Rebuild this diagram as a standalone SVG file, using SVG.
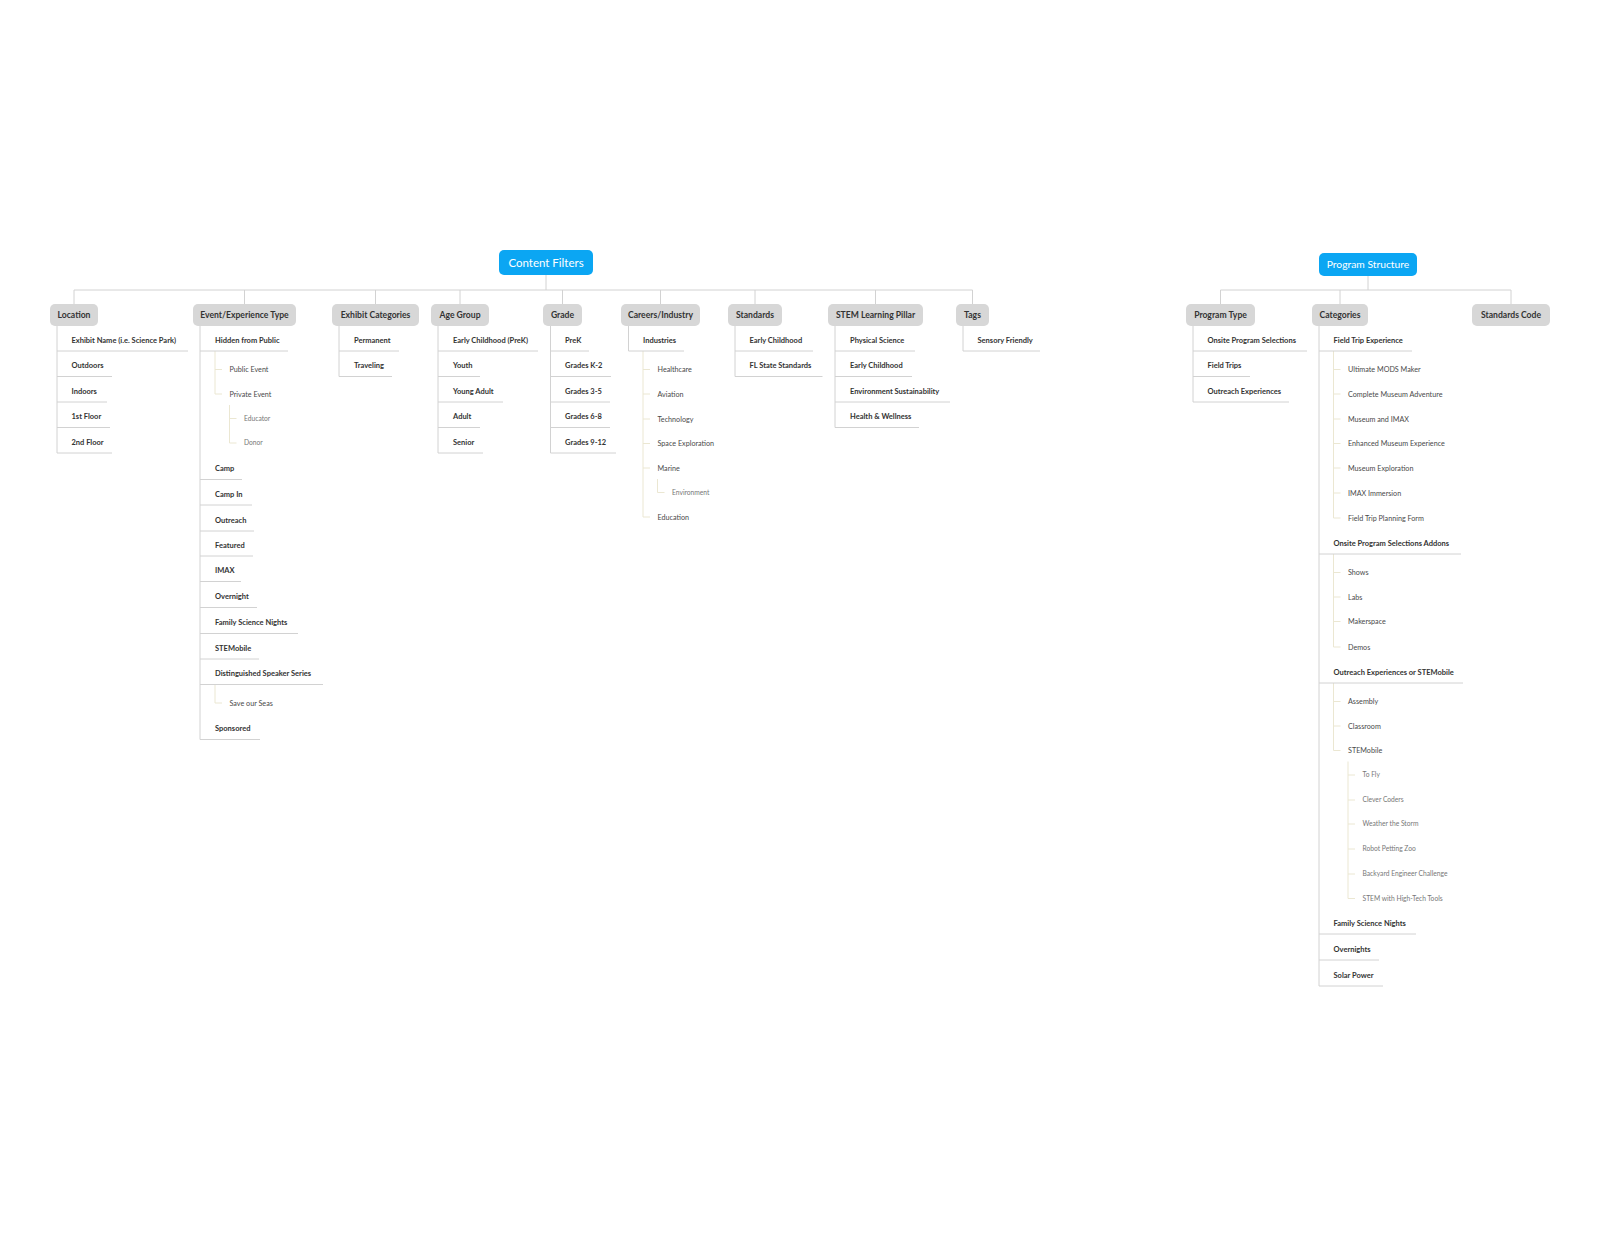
<svg xmlns="http://www.w3.org/2000/svg" width="1600" height="1236" viewBox="0 0 1600 1236">
<style>
text{font-family:"Lato","Liberation Sans",sans-serif}
.bg{fill:#ffffff}
.root rect{fill:#0ba6f3}
.root text{fill:#ffffff;font-size:11.5px;text-anchor:middle}
.hdr rect{fill:#d7d7d7}
.hdr text{fill:#333333;font-size:8.6px;font-weight:700;text-anchor:middle}
.l2 text{fill:#333333;font-size:7.5px;font-weight:700}
.l2 line{stroke:#d2d2d2;stroke-width:1}
.l3 text{fill:#4a4a4a;font-size:7.2px}
.l4 text{fill:#777777;font-size:6.7px}
.cg{fill:none;stroke:#d2d2d2;stroke-width:1}
.cb{fill:none;stroke:#ebe7d2;stroke-width:1}
</style>
<rect class="bg" x="0" y="0" width="1600" height="1236"/>

<g id="connectors">
  <path class="cg" d="M546 275V290M74 290H972.5M74 290V304M244.5 290V304M375.5 290V304M460 290V304M562.5 290V304M660.5 290V304M755 290V304M875.5 290V304M972.5 290V304"/>
  <path class="cg" d="M1368 276V290M1220.5 290H1511M1220.5 290V304M1340 290V304M1511 290V304"/>
  <path class="cg" d="M57 326V453M200 326V739.5M339 326V376.5M438 326V453M550.5 326V453M628.5 326V351M735 326V376.5M835 326V427.5M963 326V351M1193 326V402M1319 326V986"/>
  <path class="cb" d="M215 351V394M215 369.5H222M215 394H222M229.5 405V443M229.5 418.5H236.5M229.5 443H236.5M215 684.5V703M215 703H222"/>
  <path class="cb" d="M643 351V517M643 369.5H650M643 394H650M643 419H650M643 443.5H650M643 468H650M643 517H650M657.5 479V492.5M657.5 492.5H664.5"/>
  <path class="cb" d="M1333.5 351V518M1333.5 369.5H1340.5M1333.5 394H1340.5M1333.5 419H1340.5M1333.5 443.5H1340.5M1333.5 468H1340.5M1333.5 493H1340.5M1333.5 518H1340.5"/>
  <path class="cb" d="M1333.5 554V647M1333.5 572.5H1340.5M1333.5 597H1340.5M1333.5 621.5H1340.5M1333.5 647H1340.5"/>
  <path class="cb" d="M1333.5 683V750.5M1333.5 701.5H1340.5M1333.5 726H1340.5M1333.5 750.5H1340.5M1348 761.5V898.5M1348 775H1355M1348 800H1355M1348 824H1355M1348 849H1355M1348 874H1355M1348 898.5H1355"/>
</g>

<g id="content-filters" class="root"><rect x="499" y="250" width="94" height="25" rx="5"/><text x="546" y="266.5">Content Filters</text></g>
<g id="program-structure" class="root"><rect x="1319" y="253" width="98" height="23" rx="5"/><text x="1368" y="268.3" style="font-size:10.3px">Program Structure</text></g>

<g id="h-location" class="hdr"><rect x="50" y="304" width="48" height="22" rx="5"/><text x="74" y="318">Location</text></g>
<g id="h-event" class="hdr"><rect x="193" y="304" width="103" height="22" rx="5"/><text x="244.5" y="318">Event/Experience Type</text></g>
<g id="h-exhibit" class="hdr"><rect x="332" y="304" width="87" height="22" rx="5"/><text x="375.5" y="318">Exhibit Categories</text></g>
<g id="h-age" class="hdr"><rect x="431" y="304" width="58" height="22" rx="5"/><text x="460" y="318">Age Group</text></g>
<g id="h-grade" class="hdr"><rect x="543" y="304" width="39" height="22" rx="5"/><text x="562.5" y="318">Grade</text></g>
<g id="h-careers" class="hdr"><rect x="621" y="304" width="79" height="22" rx="5"/><text x="660.5" y="318">Careers/Industry</text></g>
<g id="h-standards" class="hdr"><rect x="728" y="304" width="54" height="22" rx="5"/><text x="755" y="318">Standards</text></g>
<g id="h-stem" class="hdr"><rect x="828" y="304" width="95" height="22" rx="5"/><text x="875.5" y="318">STEM Learning Pillar</text></g>
<g id="h-tags" class="hdr"><rect x="956" y="304" width="33" height="22" rx="5"/><text x="972.5" y="318">Tags</text></g>
<g id="h-program-type" class="hdr"><rect x="1186" y="304" width="69" height="22" rx="5"/><text x="1220.5" y="318">Program Type</text></g>
<g id="h-categories" class="hdr"><rect x="1312" y="304" width="56" height="22" rx="5"/><text x="1340" y="318">Categories</text></g>
<g id="h-standards-code" class="hdr"><rect x="1472" y="304" width="78" height="22" rx="5"/><text x="1511" y="318">Standards Code</text></g>

<!-- Location -->
<g id="loc-1" class="l2"><text x="71.5" y="342.6">Exhibit Name (i.e. Science Park)</text><line x1="57" y1="351" x2="188" y2="351"/></g>
<g id="loc-2" class="l2"><text x="71.5" y="368.1">Outdoors</text><line x1="57" y1="376.5" x2="112" y2="376.5"/></g>
<g id="loc-3" class="l2"><text x="71.5" y="393.6">Indoors</text><line x1="57" y1="402" x2="107" y2="402"/></g>
<g id="loc-4" class="l2"><text x="71.5" y="419.1">1st Floor</text><line x1="57" y1="427.5" x2="110" y2="427.5"/></g>
<g id="loc-5" class="l2"><text x="71.5" y="444.6">2nd Floor</text><line x1="57" y1="453" x2="112" y2="453"/></g>

<!-- Event/Experience Type -->
<g id="ev-1" class="l2"><text x="215" y="342.6">Hidden from Public</text><line x1="200" y1="351" x2="288" y2="351"/></g>
<g id="ev-1a" class="l3"><text x="229.5" y="372">Public Event</text></g>
<g id="ev-1b" class="l3"><text x="229.5" y="396.5">Private Event</text></g>
<g id="ev-1b1" class="l4"><text x="244" y="420.9">Educator</text></g>
<g id="ev-1b2" class="l4"><text x="244" y="445.4">Donor</text></g>
<g id="ev-2" class="l2"><text x="215" y="471.1">Camp</text><line x1="200" y1="479.5" x2="242" y2="479.5"/></g>
<g id="ev-3" class="l2"><text x="215" y="496.6">Camp In</text><line x1="200" y1="505" x2="252" y2="505"/></g>
<g id="ev-4" class="l2"><text x="215" y="522.6">Outreach</text><line x1="200" y1="531" x2="254" y2="531"/></g>
<g id="ev-5" class="l2"><text x="215" y="547.6">Featured</text><line x1="200" y1="556" x2="253" y2="556"/></g>
<g id="ev-6" class="l2"><text x="215" y="573.1">IMAX</text><line x1="200" y1="581.5" x2="241" y2="581.5"/></g>
<g id="ev-7" class="l2"><text x="215" y="599.1">Overnight</text><line x1="200" y1="607.5" x2="257" y2="607.5"/></g>
<g id="ev-8" class="l2"><text x="215" y="625.1">Family Science Nights</text><line x1="200" y1="633.5" x2="298" y2="633.5"/></g>
<g id="ev-9" class="l2"><text x="215" y="650.6">STEMobile</text><line x1="200" y1="659" x2="259" y2="659"/></g>
<g id="ev-10" class="l2"><text x="215" y="676.1">Distinguished Speaker Series</text><line x1="200" y1="684.5" x2="323" y2="684.5"/></g>
<g id="ev-10a" class="l3"><text x="229.5" y="705.5">Save our Seas</text></g>
<g id="ev-11" class="l2"><text x="215" y="731.1">Sponsored</text><line x1="200" y1="739.5" x2="260" y2="739.5"/></g>

<!-- Exhibit Categories -->
<g id="ex-1" class="l2"><text x="354" y="342.6">Permanent</text><line x1="339" y1="351" x2="399" y2="351"/></g>
<g id="ex-2" class="l2"><text x="354" y="368.1">Traveling</text><line x1="339" y1="376.5" x2="392" y2="376.5"/></g>

<!-- Age Group -->
<g id="age-1" class="l2"><text x="453" y="342.6">Early Childhood (PreK)</text><line x1="438" y1="351" x2="538" y2="351"/></g>
<g id="age-2" class="l2"><text x="453" y="368.1">Youth</text><line x1="438" y1="376.5" x2="480" y2="376.5"/></g>
<g id="age-3" class="l2"><text x="453" y="393.6">Young Adult</text><line x1="438" y1="402" x2="503" y2="402"/></g>
<g id="age-4" class="l2"><text x="453" y="419.1">Adult</text><line x1="438" y1="427.5" x2="480" y2="427.5"/></g>
<g id="age-5" class="l2"><text x="453" y="444.6">Senior</text><line x1="438" y1="453" x2="483" y2="453"/></g>

<!-- Grade -->
<g id="gr-1" class="l2"><text x="565" y="342.6">PreK</text><line x1="550.5" y1="351" x2="589" y2="351"/></g>
<g id="gr-2" class="l2"><text x="565" y="368.1">Grades K-2</text><line x1="550.5" y1="376.5" x2="611" y2="376.5"/></g>
<g id="gr-3" class="l2"><text x="565" y="393.6">Grades 3-5</text><line x1="550.5" y1="402" x2="610" y2="402"/></g>
<g id="gr-4" class="l2"><text x="565" y="419.1">Grades 6-8</text><line x1="550.5" y1="427.5" x2="610" y2="427.5"/></g>
<g id="gr-5" class="l2"><text x="565" y="444.6">Grades 9-12</text><line x1="550.5" y1="453" x2="616" y2="453"/></g>

<!-- Careers/Industry -->
<g id="car-1" class="l2"><text x="643" y="342.6">Industries</text><line x1="628.5" y1="351" x2="684" y2="351"/></g>
<g id="car-1a" class="l3"><text x="657.5" y="372">Healthcare</text></g>
<g id="car-1b" class="l3"><text x="657.5" y="396.5">Aviation</text></g>
<g id="car-1c" class="l3"><text x="657.5" y="421.5">Technology</text></g>
<g id="car-1d" class="l3"><text x="657.5" y="446">Space Exploration</text></g>
<g id="car-1e" class="l3"><text x="657.5" y="470.5">Marine</text></g>
<g id="car-1e1" class="l4"><text x="672" y="494.9">Environment</text></g>
<g id="car-1f" class="l3"><text x="657.5" y="519.5">Education</text></g>

<!-- Standards -->
<g id="st-1" class="l2"><text x="749.5" y="342.6">Early Childhood</text><line x1="735" y1="351" x2="813" y2="351"/></g>
<g id="st-2" class="l2"><text x="749.5" y="368.1">FL State Standards</text><line x1="735" y1="376.5" x2="822.5" y2="376.5"/></g>

<!-- STEM Learning Pillar -->
<g id="stem-1" class="l2"><text x="850" y="342.6">Physical Science</text><line x1="835" y1="351" x2="915" y2="351"/></g>
<g id="stem-2" class="l2"><text x="850" y="368.1">Early Childhood</text><line x1="835" y1="376.5" x2="912" y2="376.5"/></g>
<g id="stem-3" class="l2"><text x="850" y="393.6">Environment Sustainability</text><line x1="835" y1="402" x2="950" y2="402"/></g>
<g id="stem-4" class="l2"><text x="850" y="419.1">Health &amp; Wellness</text><line x1="835" y1="427.5" x2="919" y2="427.5"/></g>

<!-- Tags -->
<g id="tag-1" class="l2"><text x="977.5" y="342.6">Sensory Friendly</text><line x1="963" y1="351" x2="1040" y2="351"/></g>

<!-- Program Type -->
<g id="pt-1" class="l2"><text x="1207.5" y="342.6">Onsite Program Selections</text><line x1="1193" y1="351" x2="1307" y2="351"/></g>
<g id="pt-2" class="l2"><text x="1207.5" y="368.1">Field Trips</text><line x1="1193" y1="376.5" x2="1250" y2="376.5"/></g>
<g id="pt-3" class="l2"><text x="1207.5" y="393.6">Outreach Experiences</text><line x1="1193" y1="402" x2="1289" y2="402"/></g>

<!-- Categories -->
<g id="cat-1" class="l2"><text x="1333.5" y="342.6">Field Trip Experience</text><line x1="1319" y1="351" x2="1412" y2="351"/></g>
<g id="cat-1a" class="l3"><text x="1348" y="372">Ultimate MODS Maker</text></g>
<g id="cat-1b" class="l3"><text x="1348" y="396.5">Complete Museum Adventure</text></g>
<g id="cat-1c" class="l3"><text x="1348" y="421.5">Museum and IMAX</text></g>
<g id="cat-1d" class="l3"><text x="1348" y="446">Enhanced Museum Experience</text></g>
<g id="cat-1e" class="l3"><text x="1348" y="470.5">Museum Exploration</text></g>
<g id="cat-1f" class="l3"><text x="1348" y="495.5">IMAX Immersion</text></g>
<g id="cat-1g" class="l3"><text x="1348" y="520.5">Field Trip Planning Form</text></g>
<g id="cat-2" class="l2"><text x="1333.5" y="545.6">Onsite Program Selections Addons</text><line x1="1319" y1="554" x2="1461" y2="554"/></g>
<g id="cat-2a" class="l3"><text x="1348" y="575">Shows</text></g>
<g id="cat-2b" class="l3"><text x="1348" y="599.5">Labs</text></g>
<g id="cat-2c" class="l3"><text x="1348" y="624">Makerspace</text></g>
<g id="cat-2d" class="l3"><text x="1348" y="649.5">Demos</text></g>
<g id="cat-3" class="l2"><text x="1333.5" y="674.6">Outreach Experiences or STEMobile</text><line x1="1319" y1="683" x2="1463" y2="683"/></g>
<g id="cat-3a" class="l3"><text x="1348" y="704">Assembly</text></g>
<g id="cat-3b" class="l3"><text x="1348" y="728.5">Classroom</text></g>
<g id="cat-3c" class="l3"><text x="1348" y="753">STEMobile</text></g>
<g id="cat-3c1" class="l4"><text x="1362.5" y="777.4">To Fly</text></g>
<g id="cat-3c2" class="l4"><text x="1362.5" y="802.4">Clever Coders</text></g>
<g id="cat-3c3" class="l4"><text x="1362.5" y="826.4">Weather the Storm</text></g>
<g id="cat-3c4" class="l4"><text x="1362.5" y="851.4">Robot Petting Zoo</text></g>
<g id="cat-3c5" class="l4"><text x="1362.5" y="876.4">Backyard Engineer Challenge</text></g>
<g id="cat-3c6" class="l4"><text x="1362.5" y="900.9">STEM with High-Tech Tools</text></g>
<g id="cat-4" class="l2"><text x="1333.5" y="925.6">Family Science Nights</text><line x1="1319" y1="934" x2="1416" y2="934"/></g>
<g id="cat-5" class="l2"><text x="1333.5" y="951.6">Overnights</text><line x1="1319" y1="960" x2="1379" y2="960"/></g>
<g id="cat-6" class="l2"><text x="1333.5" y="977.6">Solar Power</text><line x1="1319" y1="986" x2="1383" y2="986"/></g>
</svg>
